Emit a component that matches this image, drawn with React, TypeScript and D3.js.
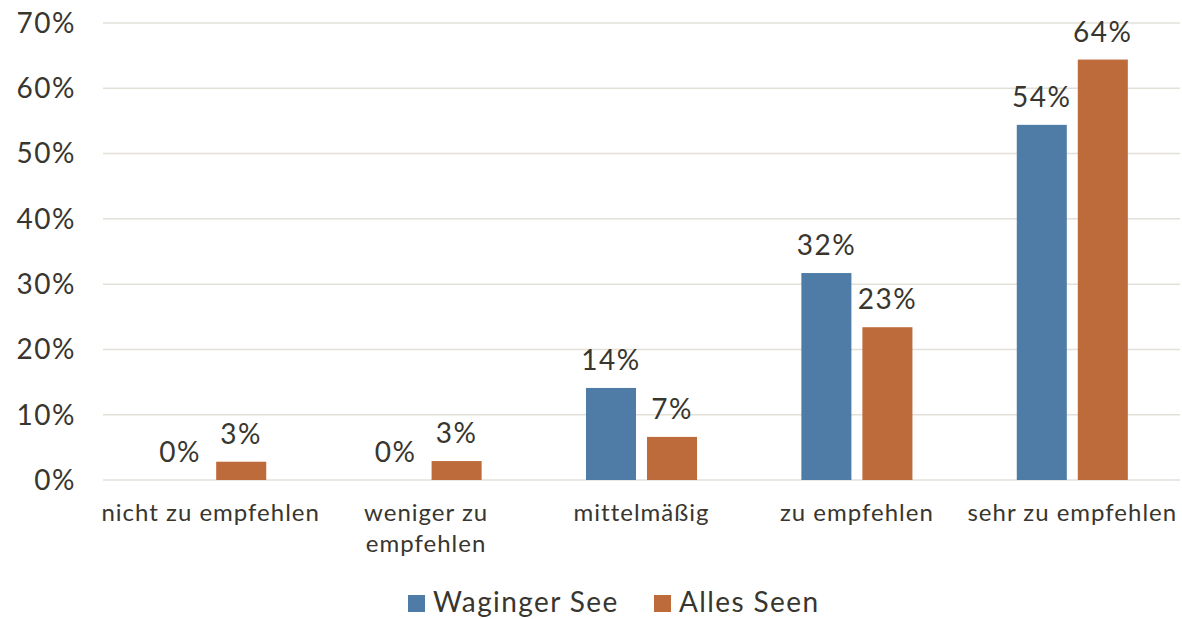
import React, { useEffect, useRef } from "react";
import * as d3 from "d3";

const categories = [
  "nicht zu empfehlen",
  "weniger zu\nempfehlen",
  "mittelmäßig",
  "zu empfehlen",
  "sehr zu empfehlen",
];
const seriesNames = ["Waginger See", "Alles Seen"];
const waginger = [0, 0, 0.141, 0.317, 0.544];
const allesSeen = [0.028, 0.029, 0.066, 0.234, 0.644];
const yTicks = [0, 0.1, 0.2, 0.3, 0.4, 0.5, 0.6, 0.7];
const colors = ["#4e7ca7", "#bd6b3a"];

const W = 1182;
const H = 619;
const FONT = "Lato, 'Open Sans', sans-serif";
const TEXT = "#38362e";

const App = () => {
  const ref = useRef<SVGSVGElement>(null);

  useEffect(() => {
    document.body.style.margin = "0";
    drawChart();
  }, []);

  const drawChart = () => {
    const svg = d3.select(ref.current);
    svg.selectAll("*").remove();

    const margin = { left: 103, right: 2, top: 23, bottom: 139 };
    const x = d3
      .scaleBand()
      .domain(categories)
      .range([margin.left, W - margin.right]);
    const inner = d3
      .scaleBand()
      .domain(seriesNames)
      .range([0, x.bandwidth()])
      .paddingInner(0.18)
      .paddingOuter(0.855);
    const y = d3
      .scaleLinear()
      .domain([0, 0.7])
      .range([H - margin.bottom, margin.top]);
    const fmt = d3.format(".0%");

    // gridlines
    svg
      .append("g")
      .selectAll("line")
      .data(yTicks)
      .enter()
      .append("line")
      .attr("x1", margin.left)
      .attr("x2", W - margin.right)
      .attr("y1", (d) => y(d))
      .attr("y2", (d) => y(d))
      .attr("stroke", "#e3e0d8")
      .attr("stroke-width", 1.5);

    // y tick labels
    svg
      .append("g")
      .selectAll("text")
      .data(yTicks)
      .enter()
      .append("text")
      .attr("x", 76)
      .attr("y", (d) => y(d))
      .attr("dy", "0.35em")
      .attr("text-anchor", "end")
      .attr("font-size", 28)
      .attr("letter-spacing", 1.5)
      .attr("font-family", FONT)
      .attr("fill", TEXT)
      .text((d) => fmt(d));

    const series = [waginger, allesSeen];
    series.forEach((vals, si) => {
      const g = svg.append("g");
      const rows = categories.map((c, i) => ({ c, v: vals[i] }));
      g.selectAll("rect")
        .data(rows)
        .enter()
        .append("rect")
        .attr("x", (d) => x(d.c)! + inner(seriesNames[si])!)
        .attr("width", inner.bandwidth())
        .attr("y", (d) => y(d.v))
        .attr("height", (d) => y(0) - y(d.v))
        .attr("fill", colors[si]);
      g.selectAll("text")
        .data(rows)
        .enter()
        .append("text")
        .attr("x", (d) => x(d.c)! + inner(seriesNames[si])! + inner.bandwidth() / 2)
        .attr("y", (d) => y(d.v) - 18)
        .attr("text-anchor", "middle")
        .attr("font-size", 28)
        .attr("letter-spacing", 1.5)
        .attr("font-family", FONT)
        .attr("fill", TEXT)
        .text((d) => fmt(d.v));
    });

    // category labels
    const xl = svg.append("g");
    categories.forEach((c) => {
      const t = xl
        .append("text")
        .attr("x", x(c)! + x.bandwidth() / 2)
        .attr("y", 521)
        .attr("text-anchor", "middle")
        .attr("font-size", 24)
        .attr("letter-spacing", 1)
        .attr("font-family", FONT)
        .attr("fill", TEXT);
      c.split("\n").forEach((line, i) => {
        t.append("tspan")
          .attr("x", x(c)! + x.bandwidth() / 2)
          .attr("dy", i === 0 ? 0 : 31)
          .text(line);
      });
    });

    // legend
    const leg = svg.append("g");
    const legX = [408, 654];
    seriesNames.forEach((n, i) => {
      leg
        .append("rect")
        .attr("x", legX[i])
        .attr("y", 595)
        .attr("width", 17)
        .attr("height", 17)
        .attr("fill", colors[i]);
      leg
        .append("text")
        .attr("x", legX[i] + 25)
        .attr("y", 612)
        .attr("font-size", 28)
        .attr("letter-spacing", 1.4)
        .attr("font-family", FONT)
        .attr("fill", TEXT)
        .text(n);
    });
  };

  return <svg ref={ref} width={W} height={H} style={{ display: "block" }}></svg>;
};

export default App;
